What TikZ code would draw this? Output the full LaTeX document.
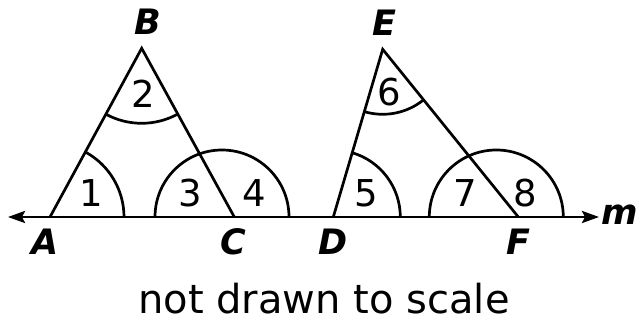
\documentclass[tikz,border=0pt]{standalone}
\usepackage{fontspec}
\setmainfont{DejaVu Sans}
\usetikzlibrary{arrows.meta,calc}
\tikzset{
  geo/.style={line width=2.7pt, line join=miter},
  ptlabel/.style={font=\fontsize{35}{37}\selectfont\bfseries\itshape, inner sep=0pt},
  anglabel/.style={font=\fontsize{37}{40}\selectfont, inner sep=0pt},
  note/.style={font=\fontsize{40}{44}\selectfont, inner sep=0pt, anchor=base}
}
\begin{document}
\begin{tikzpicture}[x=1pt,y=1pt]
\useasboundingbox (0,0) rectangle (640,321);
% vertices
\coordinate (A) at (50,104);
\coordinate (B) at (141.7,272.7);
\coordinate (C) at (234.3,104);
\coordinate (D) at (333.3,104);
\coordinate (E) at (382.7,271.7);
\coordinate (F) at (518.3,104);
\coordinate (mL) at (8,104);
\coordinate (mR) at (599,104);
% line m
\draw[geo, {Stealth[length=17pt,width=12pt,inset=3pt]}-{Stealth[length=17pt,width=12pt,inset=3pt]}] (mL) -- (mR);
% triangles
\draw[geo] (A) -- (B) -- (C);
\draw[geo] (D) -- (E) -- (F);
% angle arcs
\draw[geo] ($(A)+(74,0)$) arc[start angle=0, end angle=61.5, radius=74];
\draw[geo] (B) ++(241.5:75) arc[start angle=241.5, end angle=298.8, radius=75];
\draw[geo] (289,104) arc[start angle=0, end angle=180, radius=67];
\draw[geo] ($(D)+(67,0)$) arc[start angle=0, end angle=73.6, radius=67];
\draw[geo] (E) ++(253.6:65) arc[start angle=253.6, end angle=309, radius=65];
\draw[geo] (563.3,104) arc[start angle=0, end angle=180, radius=67];
% point labels
\node[ptlabel] (lA) at (45,79) {A};
\node[ptlabel] (lB) at (148,299) {B};
\node[ptlabel] (lC) at (233,79) {C};
\node[ptlabel] (lD) at (333,79) {D};
\node[ptlabel] (lE) at (384,298.5) {E};
\node[ptlabel] (lF) at (518,79) {F};
\node[ptlabel, anchor=west] (lm) at (601,106) {m};
% angle labels
\node[anglabel] (n1) at (91,128) {1};
\node[anglabel] (n2) at (143.7,227) {2};
\node[anglabel] (n3) at (190,128) {3};
\node[anglabel] (n4) at (254,128) {4};
\node[anglabel] (n5) at (366,128) {5};
\node[anglabel] (n6) at (389,228.5) {6};
\node[anglabel] (n7) at (465,128) {7};
\node[anglabel] (n8) at (525,128) {8};
% note
\node[note] (note) at (324,7) {not drawn to scale};
\end{tikzpicture}
\end{document}
